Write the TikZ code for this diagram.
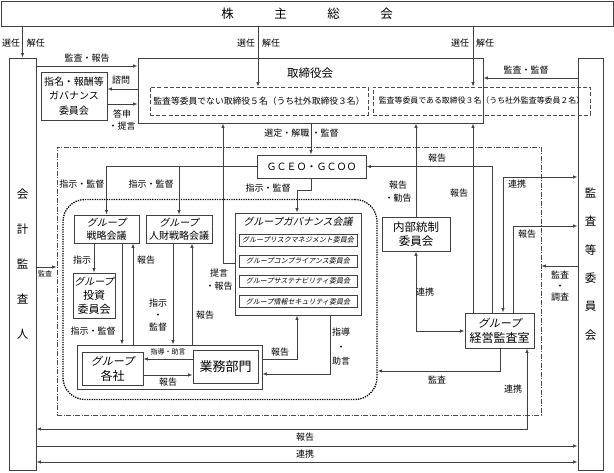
\documentclass[tikz,border=0pt]{standalone}
\usepackage{fontspec}
\setmainfont{Noto Sans CJK JP}
\newfontfamily\jpit[FakeSlant=0.22]{Noto Sans CJK JP}
\usetikzlibrary{arrows.meta,calc}
\begin{document}
\begin{tikzpicture}[x=1pt,y=-1pt,
  every node/.style={inner sep=0pt, align=center, text=black},
  box/.style={draw=black!75, line width=0.9pt},
  dbox/.style={draw=black!70, line width=0.8pt, dash pattern=on 4pt off 2.2pt},
  ln/.style={draw=black!75, line width=0.75pt},
  arr/.style={ln, -{Latex[length=4.5pt,width=3.4pt]}},
  barr/.style={ln, {Latex[length=4.5pt,width=3.4pt]}-{Latex[length=4.5pt,width=3.4pt]}},
  lab/.style={font=\fontsize{9}{12.5}\selectfont},
  slab/.style={font=\fontsize{7}{8}\selectfont},
]
\useasboundingbox (0,0) rectangle (614,473);

% ---------- boxes ----------
\node[box, minimum width=612pt, minimum height=25pt, font=\fontsize{12.5}{14}\selectfont] (top) at (307,13.5) {株\hspace{40.5pt}主\hspace{40.5pt}総\hspace{40.5pt}会};
\node[box, minimum width=27pt, minimum height=412pt, font=\fontsize{11.5}{35}\selectfont] (aud) at (22.5,264) {会\\計\\監\\査\\人};
\node[box, minimum width=25pt, minimum height=412pt, font=\fontsize{11.5}{28.4}\selectfont] (ac) at (590.5,264) {監\\査\\等\\委\\員\\会};

\node[box, minimum width=345pt, minimum height=65pt] (board) at (310.5,90.5) {};
\node[font=\fontsize{11.5}{13}\selectfont] (boardt) at (310,73) {取締役会};
\node[dbox, minimum width=218pt, minimum height=28pt, font=\fontsize{8.8}{10}\selectfont] (d1) at (259,101) {監査等委員でない取締役５名（うち社外取締役３名）};
\node[dbox, minimum width=217pt, minimum height=28pt, font=\fontsize{7.9}{10}\selectfont] (d2) at (481.5,101) {監査等委員である取締役３名（うち社外監査等委員２名）};

\node[box, minimum width=66pt, minimum height=48pt, font=\fontsize{10}{14.5}\selectfont] (nom) at (74,96) {指名・報酬等\\ガバナンス\\委員会};

\node[draw=black!70, line width=0.8pt, dash pattern=on 5pt off 1.5pt on 1pt off 1.5pt, minimum width=484pt, minimum height=268pt] (dd) at (299,281) {};
\node[draw=black, line width=1.3pt, dash pattern=on 1.3pt off 1.1pt, rounded corners=22pt, minimum width=314pt, minimum height=200pt] (dot) at (220,299.5) {};

\node[box, minimum width=109pt, minimum height=23pt, font=\fontsize{10}{12}\selectfont] (gceo) at (311.5,166.5) {ＧＣＥＯ・ＧＣＯＯ};

\node[box, minimum width=65pt, minimum height=28pt, font=\fontsize{10}{13}\selectfont] (strat) at (106.5,229) {{\jpit グループ}\\戦略会議};
\node[box, minimum width=66pt, minimum height=28pt, font=\fontsize{10}{13}\selectfont] (hr) at (179,229) {{\jpit グループ}\\人財戦略会議};

\node[box, minimum width=126pt, minimum height=102pt] (gov) at (298,264) {};
\node[font=\jpit\fontsize{10}{12}\selectfont] (govt) at (298,222) {グループガバナンス会議};
\node[box, line width=0.7pt, minimum width=118pt, minimum height=12pt, font=\jpit\fontsize{7}{8}\selectfont] (c1) at (298,240) {グループリスクマネジメント委員会};
\node[box, line width=0.7pt, minimum width=118pt, minimum height=12pt, font=\jpit\fontsize{7}{8}\selectfont] (c2) at (298,261) {グループコンプライアンス委員会};
\node[box, line width=0.7pt, minimum width=118pt, minimum height=12pt, font=\jpit\fontsize{7}{8}\selectfont] (c3) at (298,281) {グループサステナビリティ委員会};
\node[box, line width=0.7pt, minimum width=118pt, minimum height=12pt, font=\jpit\fontsize{7}{8}\selectfont] (c4) at (298,301.5) {グループ情報セキュリティ委員会};

\node[box, minimum width=42pt, minimum height=45pt, font=\fontsize{11}{14}\selectfont] (inv) at (94,295.5) {{\jpit\fontsize{10}{14}\selectfont グループ}\\投資\\委員会};

\node[box, minimum width=185pt, minimum height=44pt] (grp) at (169.5,367) {};
\node[box, minimum width=61pt, minimum height=33pt, font=\fontsize{12}{15}\selectfont] (comp) at (112.5,368.5) {{\jpit\fontsize{11}{15}\selectfont グループ}\\各社};
\node[box, minimum width=65pt, minimum height=33pt, font=\fontsize{13}{15}\selectfont] (biz) at (225.5,366.5) {業務部門};

\node[box, minimum width=68pt, minimum height=34pt, font=\fontsize{11.5}{13.5}\selectfont] (icc) at (416,234) {内部統制\\委員会};
\node[box, minimum width=69pt, minimum height=35pt, font=\fontsize{12}{15}\selectfont] (gaa) at (499.5,330.5) {{\jpit\fontsize{11}{15}\selectfont グループ}\\経営監査室};

% ---------- connectors ----------
% shareholders
\draw[arr] (top.south -| aud.north) -- (aud.north);
\node[lab] (l1a) at (11,43) {選任};
\node[lab] (l1b) at (36,43) {解任};
\draw[arr] (top.south -| 258,0) -- (d1.north -| 258,0);
\node[lab] (l2a) at (246,43) {選任};
\node[lab] (l2b) at (271,43) {解任};
\draw[arr] (top.south -| 473,0) -- (d2.north -| 473,0);
\node[lab] (l3a) at (460,43) {選任};
\node[lab] (l3b) at (485,43) {解任};

% board links
\draw[arr] (aud.east |- 0,66) -- (board.west |- 0,66);
\node[lab] (l4) at (87,58) {監査・報告};
\draw[arr] (ac.west |- 0,78) -- (board.east |- 0,78);
\node[lab] (l5) at (526,70) {監査・監督};
\draw[arr] (board.west |- 0,89) -- (nom.east |- 0,89);
\node[lab] (l6) at (121,80) {諮問};
\draw[arr] (nom.east |- 0,104) -- (board.west |- 0,104);
\node[lab] (l7) at (122,120) {答申\\・提言};

\draw[arr] (board.south -| 311,0) -- (gceo.north -| 311,0);
\node[lab, anchor=east] (l8a) at (309.5,133) {選定・解職};
\node[lab, anchor=west] (l8b) at (311.5,133) {・監督};

% GCEO down
\draw[arr] (gceo.west) -| (strat.north);
\draw[arr] (gceo.west -| hr.north) -- (hr.north);
\node[lab] (l9) at (82,184) {指示・監督};
\node[lab] (l10) at (151,184) {指示・監督};
\draw[arr] (gceo.south) -- (gceo.south |- 0,190) -| (gov.north -| 297,0);
\node[lab] (l11) at (268,188) {指示・監督};

% governance -> board
\draw[arr] (gov.west |- 0,263) -| (board.south -| 223,0);
\node[lab] (l12) at (219,279.5) {提言\\・報告};

% strategy
\draw[arr] (strat.south -| inv.north) -- (inv.north);
\node[lab] (l13) at (82,260) {指示};
\draw[arr] (strat.south -| 122,0) -- (grp.north -| 122,0);
\node[lab] (l14) at (93,331) {指示・監督};
\draw[arr] (grp.north -| 133,0) -- (strat.south -| 133,0);
\node[lab] (l15) at (146,260) {報告};
\draw[arr] (hr.south -| 173,0) -- (grp.north -| 173,0);
\node[lab, font=\fontsize{9}{12}\selectfont] (l16) at (158,315) {指示\\・\\監督};
\draw[arr] (grp.north -| 192,0) -- (hr.south -| 192,0);
\node[lab] (l17) at (205,315) {報告};

% group companies / business
\draw[arr] (biz.west |- 0,359) -- (comp.east |- 0,359);
\node[slab] (l18) at (168,352) {指導・助言};
\draw[arr] (comp.east |- 0,375) -- (biz.west |- 0,375);
\node[lab] (l19) at (168,382) {報告};
\draw[arr] (grp.east |- 0,359) -| (gov.south -| 297,0);
\node[lab] (l20) at (280,352) {報告};
\draw[arr] (gov.south -| 330,0) |- (grp.east |- 0,374);
\node[lab, font=\fontsize{9}{14.5}\selectfont] (l21) at (341,347) {指導\\・\\助言};

% internal control / audit office
\draw[arr] (icc.north) -- (board.south -| icc.north);
\node[lab] (l22) at (398,191.5) {報告\\・勧告};
\draw[arr] (gaa.north -| 473,0) -- (board.south -| 473,0);
\node[lab] (l23) at (459,193) {報告};
\draw[arr] (gaa.north -| 492,0) |- (gceo.east);
\node[lab] (l24) at (437,158) {報告};
\draw[barr] (gaa.north -| 503,0) |- (ac.west |- 0,177);
\node[lab] (l25) at (517,184) {連携};
\draw[arr] (gaa.north -| 513,0) |- (ac.west |- 0,226);
\node[lab] (l26) at (527,234) {報告};
\draw[arr] (ac.west |- 0,266) -- (dd.east |- 0,266);
\node[lab, font=\fontsize{9}{11}\selectfont] (l27) at (560,286) {監査\\・\\調査};
\draw[barr] (icc.south) |- (gaa.west |- 0,331);
\node[lab] (l28) at (425,292) {連携};
\draw[arr] (gaa.south -| 500,0) |- (dot.east |- 0,371);
\node[lab] (l29) at (437,380) {監査};
\draw[barr] (gaa.south -| 527,0) |- (aud.east |- 0,429);
\node[lab] (l30) at (513,389) {連携};

% accounting auditor
\draw[arr] (aud.east |- 0,267) -- (dd.west |- 0,267);
\node[slab] (l31) at (45,273.5) {監査};
\draw[arr] (aud.east |- 0,446) -- (ac.west |- 0,446);
\node[lab] (l32) at (305,437) {報告};
\draw[barr] (aud.east |- 0,462) -- (ac.west |- 0,462);
\node[lab] (l33) at (305,454) {連携};
\end{tikzpicture}
\end{document}
